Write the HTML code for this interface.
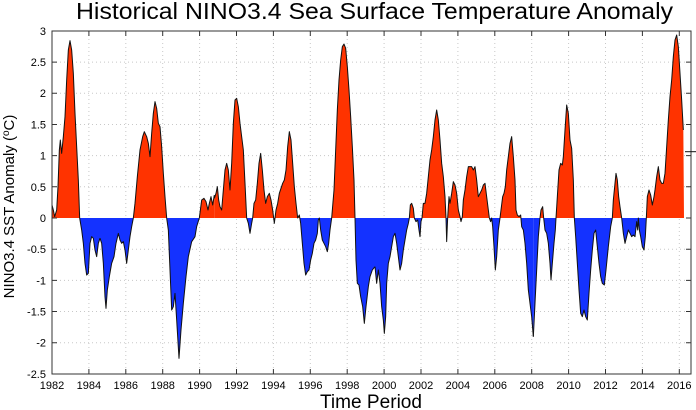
<!DOCTYPE html>
<html>
<head>
<meta charset="utf-8">
<style>
  html,body{margin:0;padding:0;background:#fff;}
  svg{display:block;}
  text{font-family:"Liberation Sans", Arial, sans-serif; fill:#000;}
</style>
</head>
<body>
<svg width="696" height="410" viewBox="0 0 696 410" xmlns="http://www.w3.org/2000/svg">
  <defs>
    <clipPath id="above" clipPathUnits="userSpaceOnUse"><rect x="0" y="0" width="696" height="218"/></clipPath>
    <clipPath id="below" clipPathUnits="userSpaceOnUse"><rect x="0" y="218" width="696" height="192"/></clipPath>
    <polygon id="p1" points="6,525 10,540 14,560 20,540 24,470 28,360 31,330 35,370 40,320 45,260 50,150 55,60 60,32 65,60 70,130 75,250 80,350 85,450 89,564 95,600 100,640 105,700 110,735 115,730 120,640 125,620 130,625 135,660 140,680 145,640 150,625 155,640 160,700 165,800 168,835 172,780 178,740 185,700 192,680 198,640 205,610 210,630 215,640 220,635 225,660 230,700 235,660 240,620 245,590 250,564 255,520 262,440 270,360 278,320 283,305 290,320 295,340 300,380 305,310 310,250 315,215 320,235 325,280 330,290 335,350 340,430 345,500 350,564 355,600 360,720 365,840 370,830 375,790 380,870 387,985 393,900 400,820 408,740 415,680 425,635 435,620 440,590 448,564 455,510 462,505 468,515 474,540 478,520 483,500 488,525 493,495 493,564 6,564"/>
    <polygon id="p2" points="13,505 18,490 22,470 26,510 30,530 35,540 40,480 45,420 50,400 55,420 60,480 65,400 70,280 75,210 80,205 85,230 90,280 95,320 100,360 105,460 110,564 115,580 120,610 125,580 128,564 132,520 137,510 142,460 147,400 152,370 157,420 162,480 167,520 172,500 178,490 183,510 188,540 193,580 198,540 203,520 208,490 213,475 218,460 223,450 228,420 233,350 238,305 243,330 248,400 253,470 258,520 263,564 268,555 272,580 277,640 282,700 287,735 292,725 297,720 302,690 307,670 312,640 317,630 322,610 325,570 328,564 332,600 337,630 342,640 347,650 352,665 356,640 360,600 365,564 372,480 377,360 382,240 387,150 392,90 397,50 402,42 407,55 412,110 417,180 422,260 427,350 432,450 435,564 438,690 442,760 447,765 452,800 458,830 463,880 468,830 475,770 480,740 487,720 495,710 495,564 13,564"/>
    <polygon id="p3" points="15,710 20,760 25,720 30,760 35,830 40,870 43,910 47,860 50,760 55,700 60,680 65,650 70,620 75,610 80,640 85,680 90,720 95,700 100,660 105,630 110,600 115,580 118,564 121,525 125,520 130,535 133,564 138,575 143,570 147,600 150,620 153,575 156,564 160,520 165,520 170,490 175,440 180,390 185,360 190,320 195,270 200,240 205,270 210,330 215,400 220,440 225,500 228,564 230,635 233,564 237,500 240,520 245,490 250,455 255,465 260,490 265,540 270,560 273,575 277,560 280,510 285,480 290,440 295,410 300,410 305,410 310,420 315,410 320,450 325,500 330,490 335,480 340,465 345,460 350,500 355,540 358,564 362,575 365,564 368,590 372,650 376,720 380,680 385,600 390,564 393,540 398,500 402,490 406,470 410,420 415,380 420,340 425,320 430,380 435,450 438,540 442,555 447,560 452,555 455,590 460,600 465,640 470,700 475,780 480,820 485,860 490,920 490,564 15,564"/>
    <polygon id="p4" points="10,920 15,820 20,720 25,620 30,564 33,540 38,530 41,564 45,600 50,610 55,640 60,700 63,750 67,700 72,640 76,600 78,564 82,500 87,420 92,400 97,405 100,380 105,300 110,225 115,250 120,330 125,355 130,450 133,564 137,620 142,700 147,780 152,850 157,860 162,840 167,860 172,870 177,790 182,720 187,660 192,610 197,600 202,650 207,700 212,740 217,760 223,765 228,720 235,650 242,590 247,564 250,510 255,460 258,430 262,450 266,500 270,530 275,564 280,610 285,640 290,620 295,600 300,610 305,620 310,615 315,620 320,575 323,600 325,564 328,600 332,620 337,650 342,660 346,620 349,564 352,500 357,480 362,495 367,525 372,500 375,480 380,440 385,410 390,450 395,460 400,460 405,430 410,350 415,270 420,200 425,150 430,80 435,30 440,15 445,50 450,130 455,210 460,300 462,564 10,564"/>
  </defs>

  <!-- Title -->
  <text x="374.5" y="19" font-size="23" text-anchor="middle" textLength="597" lengthAdjust="spacingAndGlyphs">Historical NINO3.4 Sea Surface Temperature Anomaly</text>

  <!-- Grid (dotted) -->
  <g stroke="#c8c8c8" stroke-width="1" stroke-dasharray="1,3" fill="none">
    <line x1="88.9" y1="31" x2="88.9" y2="374"/>
    <line x1="125.8" y1="31" x2="125.8" y2="374"/>
    <line x1="162.7" y1="31" x2="162.7" y2="374"/>
    <line x1="199.6" y1="31" x2="199.6" y2="374"/>
    <line x1="236.5" y1="31" x2="236.5" y2="374"/>
    <line x1="273.4" y1="31" x2="273.4" y2="374"/>
    <line x1="310.3" y1="31" x2="310.3" y2="374"/>
    <line x1="347.2" y1="31" x2="347.2" y2="374"/>
    <line x1="384.1" y1="31" x2="384.1" y2="374"/>
    <line x1="421" y1="31" x2="421" y2="374"/>
    <line x1="457.9" y1="31" x2="457.9" y2="374"/>
    <line x1="494.8" y1="31" x2="494.8" y2="374"/>
    <line x1="531.7" y1="31" x2="531.7" y2="374"/>
    <line x1="568.6" y1="31" x2="568.6" y2="374"/>
    <line x1="605.5" y1="31" x2="605.5" y2="374"/>
    <line x1="642.4" y1="31" x2="642.4" y2="374"/>
    <line x1="679.3" y1="31" x2="679.3" y2="374"/>
    <line x1="52" y1="62.1" x2="691" y2="62.1"/>
    <line x1="52" y1="93.3" x2="691" y2="93.3"/>
    <line x1="52" y1="124.5" x2="691" y2="124.5"/>
    <line x1="52" y1="155.6" x2="691" y2="155.6"/>
    <line x1="52" y1="186.8" x2="691" y2="186.8"/>
    <line x1="52" y1="249.2" x2="691" y2="249.2"/>
    <line x1="52" y1="280.4" x2="691" y2="280.4"/>
    <line x1="52" y1="311.5" x2="691" y2="311.5"/>
    <line x1="52" y1="342.7" x2="691" y2="342.7"/>
  </g>

  <!-- Fills -->
  <g clip-path="url(#above)" fill="#ff3300">
    <use href="#p1" transform="translate(50,30) scale(0.33333)"/>
    <use href="#p2" transform="translate(210,30) scale(0.33333)"/>
    <use href="#p3" transform="translate(370,30) scale(0.33333)"/>
    <use href="#p4" transform="translate(530,30) scale(0.33333)"/>
  </g>
  <g clip-path="url(#below)" fill="#1432ff">
    <use href="#p1" transform="translate(50,30) scale(0.33333)"/>
    <use href="#p2" transform="translate(210,30) scale(0.33333)"/>
    <use href="#p3" transform="translate(370,30) scale(0.33333)"/>
    <use href="#p4" transform="translate(530,30) scale(0.33333)"/>
  </g>

  <!-- Outline -->
  <g fill="none" stroke="#111" stroke-width="1" stroke-linejoin="round">
    <polyline vector-effect="non-scaling-stroke" transform="translate(50,30) scale(0.33333)" points="6,525 10,540 14,560 20,540 24,470 28,360 31,330 35,370 40,320 45,260 50,150 55,60 60,32 65,60 70,130 75,250 80,350 85,450 89,564 95,600 100,640 105,700 110,735 115,730 120,640 125,620 130,625 135,660 140,680 145,640 150,625 155,640 160,700 165,800 168,835 172,780 178,740 185,700 192,680 198,640 205,610 210,630 215,640 220,635 225,660 230,700 235,660 240,620 245,590 250,564 255,520 262,440 270,360 278,320 283,305 290,320 295,340 300,380 305,310 310,250 315,215 320,235 325,280 330,290 335,350 340,430 345,500 350,564 355,600 360,720 365,840 370,830 375,790 380,870 387,985 393,900 400,820 408,740 415,680 425,635 435,620 440,590 448,564 455,510 462,505 468,515 474,540 478,520 483,500 488,525 493,495"/>
    <polyline vector-effect="non-scaling-stroke" transform="translate(210,30) scale(0.33333)" points="13,505 18,490 22,470 26,510 30,530 35,540 40,480 45,420 50,400 55,420 60,480 65,400 70,280 75,210 80,205 85,230 90,280 95,320 100,360 105,460 110,564 115,580 120,610 125,580 128,564 132,520 137,510 142,460 147,400 152,370 157,420 162,480 167,520 172,500 178,490 183,510 188,540 193,580 198,540 203,520 208,490 213,475 218,460 223,450 228,420 233,350 238,305 243,330 248,400 253,470 258,520 263,564 268,555 272,580 277,640 282,700 287,735 292,725 297,720 302,690 307,670 312,640 317,630 322,610 325,570 328,564 332,600 337,630 342,640 347,650 352,665 356,640 360,600 365,564 372,480 377,360 382,240 387,150 392,90 397,50 402,42 407,55 412,110 417,180 422,260 427,350 432,450 435,564 438,690 442,760 447,765 452,800 458,830 463,880 468,830 475,770 480,740 487,720 495,710"/>
    <polyline vector-effect="non-scaling-stroke" transform="translate(370,30) scale(0.33333)" points="15,710 20,760 25,720 30,760 35,830 40,870 43,910 47,860 50,760 55,700 60,680 65,650 70,620 75,610 80,640 85,680 90,720 95,700 100,660 105,630 110,600 115,580 118,564 121,525 125,520 130,535 133,564 138,575 143,570 147,600 150,620 153,575 156,564 160,520 165,520 170,490 175,440 180,390 185,360 190,320 195,270 200,240 205,270 210,330 215,400 220,440 225,500 228,564 230,635 233,564 237,500 240,520 245,490 250,455 255,465 260,490 265,540 270,560 273,575 277,560 280,510 285,480 290,440 295,410 300,410 305,410 310,420 315,410 320,450 325,500 330,490 335,480 340,465 345,460 350,500 355,540 358,564 362,575 365,564 368,590 372,650 376,720 380,680 385,600 390,564 393,540 398,500 402,490 406,470 410,420 415,380 420,340 425,320 430,380 435,450 438,540 442,555 447,560 452,555 455,590 460,600 465,640 470,700 475,780 480,820 485,860 490,920"/>
    <polyline vector-effect="non-scaling-stroke" transform="translate(530,30) scale(0.33333)" points="10,920 15,820 20,720 25,620 30,564 33,540 38,530 41,564 45,600 50,610 55,640 60,700 63,750 67,700 72,640 76,600 78,564 82,500 87,420 92,400 97,405 100,380 105,300 110,225 115,250 120,330 125,355 130,450 133,564 137,620 142,700 147,780 152,850 157,860 162,840 167,860 172,870 177,790 182,720 187,660 192,610 197,600 202,650 207,700 212,740 217,760 223,765 228,720 235,650 242,590 247,564 250,510 255,460 258,430 262,450 266,500 270,530 275,564 280,610 285,640 290,620 295,600 300,610 305,620 310,615 315,620 320,575 323,600 325,564 328,600 332,620 337,650 342,660 346,620 349,564 352,500 357,480 362,495 367,525 372,500 375,480 380,440 385,410 390,450 395,460 400,460 405,430 410,350 415,270 420,200 425,150 430,80 435,30 440,15 445,50 450,130 455,210 460,300"/>
  </g>

  <!-- Axes box -->
  <rect x="52" y="31" width="639" height="343" fill="none" stroke="#333" stroke-width="1"/>

  <!-- Ticks -->
  <g stroke="#333" stroke-width="1">
    <!-- x ticks bottom & top -->
    <path d="M88.9 374v-5M125.8 374v-5M162.7 374v-5M199.6 374v-5M236.5 374v-5M273.4 374v-5M310.3 374v-5M347.2 374v-5M384.1 374v-5M421 374v-5M457.9 374v-5M494.8 374v-5M531.7 374v-5M568.6 374v-5M605.5 374v-5M642.4 374v-5M679.3 374v-5
             M88.9 31v5M125.8 31v5M162.7 31v5M199.6 31v5M236.5 31v5M273.4 31v5M310.3 31v5M347.2 31v5M384.1 31v5M421 31v5M457.9 31v5M494.8 31v5M531.7 31v5M568.6 31v5M605.5 31v5M642.4 31v5M679.3 31v5"/>
    <!-- y ticks left & right -->
    <path d="M52 62.1h5M52 93.3h5M52 124.5h5M52 155.6h5M52 186.8h5M52 218h5M52 249.2h5M52 280.4h5M52 311.5h5M52 342.7h5
             M691 62.1h-5M691 93.3h-5M691 124.5h-5M691 155.6h-5M691 186.8h-5M691 218h-5M691 249.2h-5M691 280.4h-5M691 311.5h-5M691 342.7h-5"/>
  </g>
  <!-- current value marker -->
  <line x1="685" y1="151.7" x2="696" y2="151.7" stroke="#111" stroke-width="1"/>

  <!-- Y tick labels -->
  <g font-size="11" text-anchor="end">
    <text x="46" y="35">3</text>
    <text x="46" y="66">2.5</text>
    <text x="46" y="97">2</text>
    <text x="46" y="128.5">1.5</text>
    <text x="46" y="159.6">1</text>
    <text x="46" y="190.8">0.5</text>
    <text x="46" y="222">0</text>
    <text x="46" y="253.2">-0.5</text>
    <text x="46" y="284.4">-1</text>
    <text x="46" y="315.5">-1.5</text>
    <text x="46" y="346.7">-2</text>
    <text x="46" y="377.9">-2.5</text>
  </g>

  <!-- X tick labels -->
  <g font-size="11" text-anchor="middle">
    <text x="52" y="389">1982</text>
    <text x="88.9" y="389">1984</text>
    <text x="125.8" y="389">1986</text>
    <text x="162.7" y="389">1988</text>
    <text x="199.6" y="389">1990</text>
    <text x="236.5" y="389">1992</text>
    <text x="273.4" y="389">1994</text>
    <text x="310.3" y="389">1996</text>
    <text x="347.2" y="389">1998</text>
    <text x="384.1" y="389">2000</text>
    <text x="421" y="389">2002</text>
    <text x="457.9" y="389">2004</text>
    <text x="494.8" y="389">2006</text>
    <text x="531.7" y="389">2008</text>
    <text x="568.6" y="389">2010</text>
    <text x="605.5" y="389">2012</text>
    <text x="642.4" y="389">2014</text>
    <text x="679.3" y="389">2016</text>
  </g>

  <!-- Axis labels -->
  <text x="371" y="408" font-size="19" text-anchor="middle" textLength="102" lengthAdjust="spacingAndGlyphs">Time Period</text>
  <text transform="translate(14,206.5) rotate(-90)" font-size="15" text-anchor="middle">NINO3.4 SST Anomaly (<tspan dy="-5" font-size="10">o</tspan><tspan dy="5">C)</tspan></text>
</svg>
</body>
</html>
